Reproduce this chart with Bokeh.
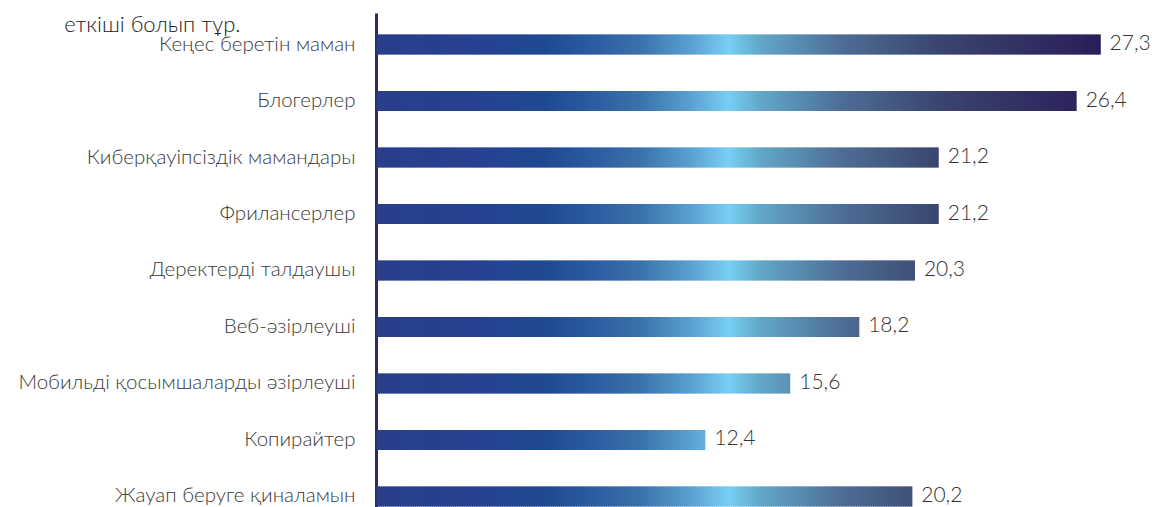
import numpy as np
from bokeh.plotting import figure
from bokeh.models import Range1d, ColumnDataSource
from bokeh.embed import file_html
from bokeh.resources import INLINE
from bokeh.core.properties import value

# ---- data ----
categories = [
    "Кеңес беретін маман",
    "Блогерлер",
    "Киберқауіпсіздік мамандары",
    "Фрилансерлер",
    "Деректерді талдаушы",
    "Веб-әзірлеуші",
    "Мобильді қосымшаларды әзірлеуші",
    "Копирайтер",
    "Жауап беруге қиналамын",
]
values = [27.3, 26.4, 21.2, 21.2, 20.3, 18.2, 15.6, 12.4, 20.2]
value_labels = ["27,3", "26,4", "21,2", "21,2", "20,3", "18,2", "15,6", "12,4", "20,2"]
title_text = "еткіші болып тұр."

# ---- style ----
FONT = "Lato Light, Roboto"
grad_pos = [0.0, 3.54, 6.41, 8.45, 9.95, 11.84, 13.27, 14.48, 17.5, 21.27, 27.3]
grad_col = ["#283f8b", "#274190", "#1f4a92", "#2f5fa2", "#3b72ab", "#5aa0d2",
            "#78cff4", "#62a7c8", "#4e6e95", "#3a456f", "#2a1e57"]
grad_rgb = np.array([[int(c[i:i + 2], 16) for i in (1, 3, 5)] for c in grad_col], float)


def grad_color(x):
    r = np.interp(x, grad_pos, grad_rgb[:, 0])
    g = np.interp(x, grad_pos, grad_rgb[:, 1])
    b = np.interp(x, grad_pos, grad_rgb[:, 2])
    return "#%02x%02x%02x" % (int(round(r)), int(round(g)), int(round(b)))


step = 0.08
ys, lefts, rights, cols = [], [], [], []
for i, v in enumerate(values):
    edges = np.append(np.arange(0, v, step), v)
    for a, b in zip(edges[:-1], edges[1:]):
        if b - a <= 1e-9:
            continue
        ys.append(i)
        lefts.append(a)
        rights.append(min(b + step * 0.6, v))
        cols.append(grad_color((a + b) / 2))

slices = ColumnDataSource(dict(y=ys, left=lefts, right=rights, color=cols))

Y_TOP, Y_BOTTOM = -0.779, 8.195
p = figure(width=1152, height=507,
           x_range=Range1d(-14.178, 29.26), y_range=Range1d(Y_BOTTOM, Y_TOP),
           output_backend="svg", toolbar_location=None,
           x_axis_location=None, y_axis_location=None,
           min_border=0)
p.outline_line_color = None
p.background_fill_color = "white"
p.grid.visible = False

# vertical axis line
p.segment(x0=[0], y0=[Y_BOTTOM], x1=[0], y1=[-0.549],
          line_color="#2e2a68", line_width=3)

# bars (gradient slices)
p.hbar(y="y", left="left", right="right", height=0.354, source=slices,
       fill_color="color", line_color=None)

idx = list(range(len(categories)))

# category labels
p.text(x=[0] * len(categories), y=idx, text=categories, x_offset=-21, y_offset=-2,
       text_baseline="middle", text_align="right",
       text_font=value(FONT), text_font_size="20.5px", text_color="#3a3a3a")

# value labels
p.text(x=values, y=idx, text=value_labels, x_offset=9, y_offset=-2,
       text_baseline="middle", text_align="left",
       text_font=value(FONT), text_font_size="21px", text_color="#333333")

# title fragment
p.text(x=[-5.128], y=[-0.38], text=[title_text], text_align="right",
       text_baseline="alphabetic", text_font=value(FONT),
       text_font_size="22px", text_color="#222222")

open("out.html", "w").write(file_html(p, INLINE))
